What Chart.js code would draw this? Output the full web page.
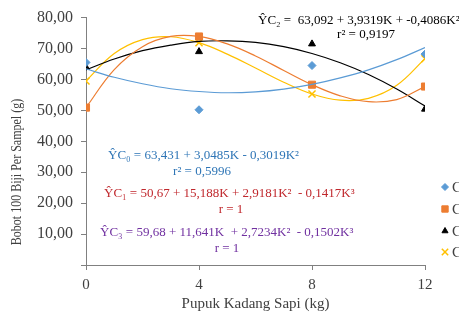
<!DOCTYPE html>
<html>
<head>
<meta charset="utf-8">
<script src="https://cdn.jsdelivr.net/npm/chart.js@4/dist/chart.umd.min.js"></script>
<style>
  html, body { margin: 0; padding: 0; background: #fff; }
  #wrap { width: 459px; height: 313px; }
</style>
</head>
<body>
<div id="wrap"><canvas id="grafik" width="459" height="313"></canvas></div>
<script>
// dosis pupuk (kg) dan nilai yang dibaca dari gambar
var dosis = [0, 4, 8, 12]
var c0 = [65.5, 50.2, 64.5, 68.2]
var c1 = [50.9, 73.9, 58.3, 57.7]
var c2 = [63.9, 69.0, 71.5, 50.4]
var c3 = [59.5, 71.9, 55.3, 66.7]

// garis trend (dibaca dari kurva di gambar)
var trendK = [0, 1, 2, 3, 4, 5, 6, 7, 8, 9, 10, 11, 12]
var trendC0 = [63.4, 60.7, 58.6, 57.0, 56.1, 55.7, 56.0, 56.9, 58.4, 60.5, 63.1, 66.4, 70.3]
var trendC1 = [50.9, 63.2, 70.6, 73.9, 73.9, 71.5, 67.6, 62.9, 58.3, 54.7, 52.8, 53.5, 57.7]
var trendC2 = [63.1, 66.6, 69.3, 71.1, 72.3, 72.5, 72.0, 70.6, 68.4, 65.4, 61.6, 56.9, 51.4]
var trendC3 = [59.5, 68.4, 72.9, 73.8, 71.9, 68.2, 63.7, 59.1, 55.3, 53.3, 53.9, 58.1, 66.7]

var yTicks = [10, 20, 30, 40, 50, 60, 70, 80]
var xTicks = [0, 4, 8, 12]
var legendLabels = ['C0', 'C1', 'C2', 'C3']

var warna = ['#5B9BD5', '#ED7D31', '#000000', '#FFC000']

function toXY(xs, ys) {
  var out = []
  for (var i = 0; i < xs.length; i++) out.push({x: xs[i], y: ys[i]})
  return out
}

function trendSet(ys, color) {
  return {
    type: 'line',
    data: toXY(trendK, ys),
    borderColor: color,
    borderWidth: 1.2,
    pointRadius: 0,
    tension: 0.4,
    fill: false
  }
}

function pointSet(ys, color, style, radius) {
  return {
    type: 'scatter',
    data: toXY(dosis, ys),
    backgroundColor: color,
    borderColor: color,
    borderWidth: style == 'crossRot' ? 1.5 : 1,
    pointStyle: style,
    pointRadius: radius,
    showLine: false
  }
}

// teks persamaan regresi, judul sumbu y, legenda
var teksPlugin = {
  id: 'teks',
  afterDraw: function(chart) {
    var ctx = chart.ctx
    ctx.save()
    ctx.textBaseline = 'middle'
    ctx.font = '13px "Liberation Serif"'

    function tulis(txt, x, y, color, align) {
      ctx.fillStyle = color
      ctx.textAlign = align || 'left'
      ctx.fillText(txt, x, y)
    }
    tulis('ŶC₂ =  63,092 + 3,9319K + -0,4086K²', 258, 21, '#000')
    tulis('r² = 0,9197', 366, 35, '#000', 'center')
    tulis('ŶC₀ = 63,431 + 3,0485K - 0,3019K²', 108, 156, '#2E75B6')
    tulis('r² = 0,5996', 202, 172, '#2E75B6', 'center')
    tulis('ŶC₁ = 50,67 + 15,188K + 2,9181K²  - 0,1417K³', 104, 194, '#C0282D')
    tulis('r = 1', 231, 210, '#C0282D', 'center')
    tulis('ŶC₃ = 59,68 + 11,641K  + 2,7234K²  - 0,1502K³', 100, 233, '#7030A0')
    tulis('r = 1', 227, 249, '#7030A0', 'center')

    // judul sumbu y (agak dipadatkan seperti di gambar)
    ctx.save()
    ctx.translate(17, 172)
    ctx.rotate(-Math.PI / 2)
    ctx.scale(0.8, 1)
    ctx.font = '15px "Liberation Serif"'
    tulis('Bobot 100 Biji Per Sampel (g)', 0, 0, '#404040', 'center')
    ctx.restore()

    // legenda kanan (terpotong di tepi)
    var ly = [187, 209, 231, 252]
    var gaya = ['rectRot', 'rect', 'triangle', 'crossRot']
    var rad = [3.5, 4.5, 3.5, 4.5]
    ctx.font = '15px "Liberation Serif"'
    for (var i = 0; i < 4; i++) {
      ctx.fillStyle = warna[i]
      ctx.strokeStyle = warna[i]
      ctx.lineWidth = gaya[i] == 'crossRot' ? 1.5 : 1
      Chart.helpers.drawPoint(ctx, {
        pointStyle: gaya[i], radius: rad[i], rotation: 0,
        borderWidth: gaya[i] == 'crossRot' ? 1.5 : 1
      }, 445, ly[i])
      tulis(legendLabels[i], 452, ly[i] + 1, '#404040')
    }
    ctx.restore()
  }
}

var myChart = new Chart(document.getElementById('grafik'), {
  data: {
    datasets: [
      trendSet(trendC0, '#5B9BD5'),
      trendSet(trendC1, '#ED7D31'),
      trendSet(trendC2, '#000000'),
      trendSet(trendC3, '#FFC000'),
      pointSet(c0, '#5B9BD5', 'rectRot', 4),
      pointSet(c1, '#ED7D31', 'rect', 5),
      pointSet(c2, '#000000', 'triangle', 4),
      pointSet(c3, '#FFC000', 'crossRot', 5)
    ]
  },
  options: {
    responsive: false,
    animation: false,
    layout: { padding: { top: 17, right: 34, left: 0, bottom: 0 } },
    plugins: {
      legend: { display: false },
      tooltip: { enabled: false }
    },
    scales: {
      x: {
        type: 'linear',
        min: 0, max: 12,
        afterBuildTicks: function(scale) {
          scale.ticks = xTicks.map(function(v) { return {value: v} })
        },
        afterFit: function(scale) { scale.height = 48 },
        grid: { drawOnChartArea: false, color: '#808080', tickLength: 5 },
        border: { color: '#808080', width: 1 },
        ticks: {
          color: '#404040', font: { family: 'Liberation Serif', size: 15 },
          padding: 6, maxRotation: 0
        },
        title: {
          display: true, text: 'Pupuk Kadang Sapi (kg)', color: '#404040',
          font: { family: 'Liberation Serif', size: 15 }, padding: { top: 0, bottom: 0 }
        }
      },
      y: {
        min: 0, max: 80,
        afterBuildTicks: function(scale) {
          scale.ticks = [0].concat(yTicks).map(function(v) { return {value: v} })
        },
        afterFit: function(scale) { scale.width = 86 },
        grid: { drawOnChartArea: false, color: '#808080', tickLength: 5 },
        border: { color: '#808080', width: 1 },
        ticks: {
          color: '#404040', font: { family: 'Liberation Serif', size: 16 }, padding: 8,
          callback: function(v) { return v == 0 ? '' : v.toFixed(2).replace('.', ',') }
        },
        title: { display: false }
      }
    }
  },
  plugins: [teksPlugin]
})
</script>
</body>
</html>
